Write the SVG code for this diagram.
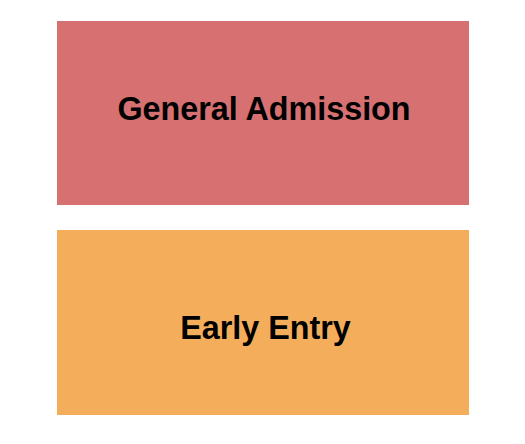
<svg xmlns="http://www.w3.org/2000/svg" width="525" height="444" viewBox="0 0 525 444">
<style>
.lbl{font-family:"Liberation Sans",Arial,sans-serif;font-weight:bold;font-size:32.3px;fill:#000;text-anchor:middle}
</style>
<rect width="525" height="444" fill="#fff"/>
<g id="general-admission">
<rect x="57" y="21" width="412" height="184" fill="#D77070"/>
<text class="lbl" x="264" y="119.5">General Admission</text>
</g>
<g id="early-entry">
<rect x="57" y="230" width="412" height="185" fill="#F4AE5B"/>
<text class="lbl" x="265.5" y="338.5">Early Entry</text>
</g>
<g id="connectors"/>
</svg>
